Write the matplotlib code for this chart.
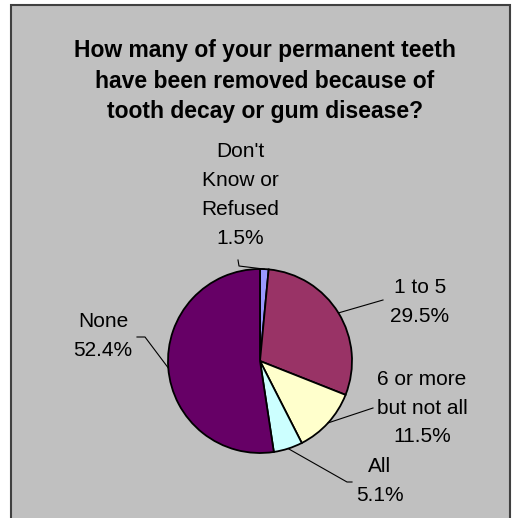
import numpy as np
import matplotlib
matplotlib.use("Agg")
import matplotlib.pyplot as plt
from matplotlib.patches import Rectangle

# survey answers, clockwise from 12 o'clock
labels = ["Don't\nKnow or\nRefused", "1 to 5", "6 or more\nbut not all", "All", "None"]
shares = [1.5, 29.5, 11.5, 5.1, 52.4]
colors = ["#9999FF", "#993366", "#FFFFCC", "#CCFFFF", "#660066"]
title = "How many of your permanent teeth\nhave been removed because of\ntooth decay or gum disease?"

W, H = 513, 518
fig = plt.figure(figsize=(W / 100, H / 100), dpi=100)
fig.patch.set_facecolor("white")

# pixel based axes, y measured from the top
ax = fig.add_axes([0, 0, 1, 1])
ax.set_xlim(0, W)
ax.set_ylim(0, H)
ax.axis("off")

def py(y):
    return H - y

ax.add_patch(Rectangle((11, py(530)), 499, 525, facecolor="#C0C0C0",
                       edgecolor="#404040", linewidth=1.5, zorder=0))

cx, cy, r = 260, 361, 92
wedges, _ = ax.pie(shares, colors=colors, startangle=90, counterclock=False,
                   center=(cx, py(cy)), radius=r,
                   wedgeprops=dict(edgecolor="black", linewidth=1.3))
ax.set_xlim(0, W)
ax.set_ylim(0, H)
ax.set_aspect("equal")

ax.text(265, py(81), title, ha="center", va="center", fontsize=16.5,
        fontweight="bold", family="Liberation Sans", linespacing=1.42)

# label text positions and leader elbows (pixels)
text_pos = [(240, 195), (420, 302), (422, 408), (380, 481), (103, 336)]
elbows = [[(239, 266), (238, 260)],
          [(383, 300)],
          [(373, 408)],
          [(347, 482), (352, 482)],
          [(145, 337), (137, 337)]]

for w, lab, val, (tx, ty), elb in zip(wedges, labels, shares, text_pos, elbows):
    ax.text(tx, py(ty), f"{lab}\n{val:.1f}%", ha="center", va="center",
            fontsize=15, family="Liberation Sans", linespacing=1.65)
    mid = np.deg2rad((w.theta1 + w.theta2) / 2)
    pts = [(cx + r * np.cos(mid), cy - r * np.sin(mid))] + elb
    ax.plot([p[0] for p in pts], [py(p[1]) for p in pts], color="black",
            linewidth=0.8)

fig.savefig("out.png", dpi=100, facecolor="white")
